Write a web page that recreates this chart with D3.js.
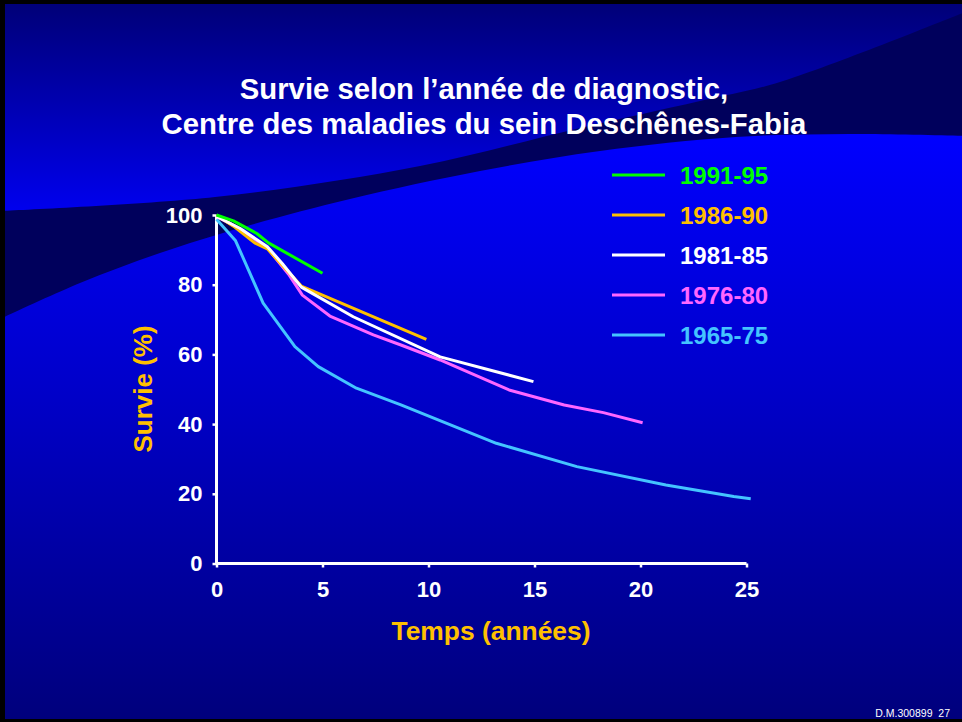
<!DOCTYPE html>
<html><head><meta charset="utf-8">
<script src="https://cdn.jsdelivr.net/npm/d3@7"></script>
<style>html,body{margin:0;padding:0;background:#000;}svg{display:block;}text{font-family:"Liberation Sans",Arial,sans-serif;}</style>
</head><body>
<script>
// ---- data ----
const seriesNames = ["1991-95","1986-90","1981-85","1976-80","1965-75"];
const seriesColors = ["#00ff00","#ffc000","#ffffff","#ff66ff","#44c4ff"];
const s1991 = [[0,100],[0.8,98.3],[1.9,94.7],[2.45,92],[5,83.3]];
const s1986 = [[0,100],[0.8,96.8],[1.8,92],[2.4,90.3],[3.1,85.6],[4,79.6],[9.9,64.3]];
const s1981 = [[0,99.6],[1.1,96.2],[2.4,90.9],[3.1,86.1],[4,79.3],[6.45,70.8],[10.55,59.3],[14.95,52.2]];
const s1976 = [[0,99.6],[1.1,96],[2.4,90.5],[3.4,83],[4.05,77],[5.35,71],[7.4,65.6],[8.7,62.7],[10.55,58.4],[13.8,49.8],[16.4,45.5],[18.25,43.3],[20.1,40.4]];
const s1965 = [[0,98.8],[0.9,92.6],[2.2,74.7],[3.7,62.2],[4.8,56.5],[6.6,50.3],[8.7,45.5],[13.2,34.5],[17,27.8],[21.2,22.5],[24.4,19.2],[25.2,18.6]];
const seriesData = [s1991,s1986,s1981,s1976,s1965];
const xTicks = [0,5,10,15,20,25];
const yTicks = [0,20,40,60,80,100];
const titleLines = ["Survie selon l\u2019année de diagnostic,","Centre des maladies du sein Deschênes-Fabia"];
const xTitle = "Temps (années)";
const yTitle = "Survie (%)";
const footer = "D.M.300899\u00a0\u00a027";

const W=962,H=722;
const svg = d3.select("body").append("svg").attr("width",W).attr("height",H);
const defs = svg.append("defs");
const g1 = defs.append("linearGradient").attr("id","gTop").attr("gradientUnits","userSpaceOnUse").attr("x1",0).attr("x2",0).attr("y1",4).attr("y2",215);
g1.append("stop").attr("offset",0).attr("stop-color","#000078");
g1.append("stop").attr("offset",1).attr("stop-color","#0000f0");
const g2 = defs.append("linearGradient").attr("id","gBot").attr("gradientUnits","userSpaceOnUse").attr("x1",0).attr("x2",0).attr("y1",133).attr("y2",719);
g2.append("stop").attr("offset",0).attr("stop-color","#0000ff");
g2.append("stop").attr("offset",0.45).attr("stop-color","#0000c8");
g2.append("stop").attr("offset",1).attr("stop-color","#00007c");

// frame background
svg.append("rect").attr("x",0).attr("y",0).attr("width",W).attr("height",H).attr("fill","#000");
const clip = defs.append("clipPath").attr("id","slide");
clip.append("rect").attr("x",5).attr("y",4).attr("width",W-5).attr("height",715);
const bg = svg.append("g").attr("clip-path","url(#slide)");
bg.append("rect").attr("x",5).attr("y",4).attr("width",W-5).attr("height",715).attr("fill","url(#gTop)");
const upperEdge = [[0,211],[215,197],[420,166],[580,128],[700,101],[780,82],[970,10]];
const lowerEdge = [[0,319],[80,283],[160,253],[240,228],[350,199],[480,171],[600,151],[736,137],[850,134],[970,136]];
const edge = d3.line().curve(d3.curveCatmullRom);
bg.append("path").attr("d", edge(upperEdge) + "L970,730L0,730Z").attr("fill","#00005c");
bg.append("path").attr("d", edge(lowerEdge) + "L970,730L0,730Z").attr("fill","url(#gBot)");

// scales
const x = d3.scaleLinear().domain([0,25]).range([216.5,746.5]);
const y = d3.scaleLinear().domain([0,100]).range([563.5,215]);

// title
svg.append("g").selectAll("text").data(titleLines).join("text")
  .attr("x",484).attr("y",(d,i)=>99+i*35).attr("text-anchor","middle")
  .attr("fill","#fff").attr("font-weight","bold").attr("font-size",29.3).text(d=>d);

// axes
const xAxis = svg.append("g").attr("transform",`translate(0,${y(0)})`)
  .call(d3.axisBottom(x).tickValues(xTicks).tickSize(4).tickPadding(14).tickFormat(d3.format("d")));
const yAxis = svg.append("g").attr("transform",`translate(${x(0)},0)`)
  .call(d3.axisLeft(y).tickValues(yTicks).tickSize(4).tickPadding(10).tickFormat(d3.format("d")));
[xAxis,yAxis].forEach(a=>{
  a.select(".domain").attr("stroke","#fff").attr("stroke-width",3);
  a.selectAll(".tick line").attr("stroke","#fff").attr("stroke-width",2.5);
  a.selectAll(".tick text").attr("fill","#fff").attr("font-size",22).attr("font-weight","bold")
    .attr("font-family","'Liberation Sans',Arial,sans-serif");
});
xAxis.select(".domain").attr("d",`M${x(0)},0H${x(25)}`);
yAxis.select(".domain").attr("d",`M0,${y(0)}V${y(100)}`);

// axis titles
svg.append("text").attr("x",491).attr("y",640).attr("text-anchor","middle")
  .attr("fill","#ffc000").attr("font-weight","bold").attr("font-size",26.4).text(xTitle);
svg.append("text").attr("transform","translate(152,389) rotate(-90)").attr("text-anchor","middle")
  .attr("fill","#ffc000").attr("font-weight","bold").attr("font-size",26).text(yTitle);

// lines
const line = d3.line().x(d=>x(d[0])).y(d=>y(d[1]));
const drawOrder = [4,3,1,2,0];
svg.append("g").selectAll("path").data(drawOrder).join("path")
  .attr("d",i=>line(seriesData[i])).attr("fill","none")
  .attr("stroke",i=>seriesColors[i]).attr("stroke-width",3)
  .attr("stroke-linejoin","round");

// legend
const lg = svg.append("g").selectAll("g").data(seriesNames).join("g")
  .attr("transform",(d,i)=>`translate(0,${175+i*40})`);
lg.append("line").attr("x1",612).attr("x2",665).attr("y1",0).attr("y2",0)
  .attr("stroke",(d,i)=>seriesColors[i]).attr("stroke-width",3);
lg.append("text").attr("x",680).attr("y",8.5).attr("fill",(d,i)=>seriesColors[i])
  .attr("font-weight","bold").attr("font-size",24).text(d=>d);

// footer
svg.append("text").attr("x",950).attr("y",716.5).attr("text-anchor","end")
  .attr("fill","#fff").attr("font-size",10.5).text(footer);
</script>
</body></html>
